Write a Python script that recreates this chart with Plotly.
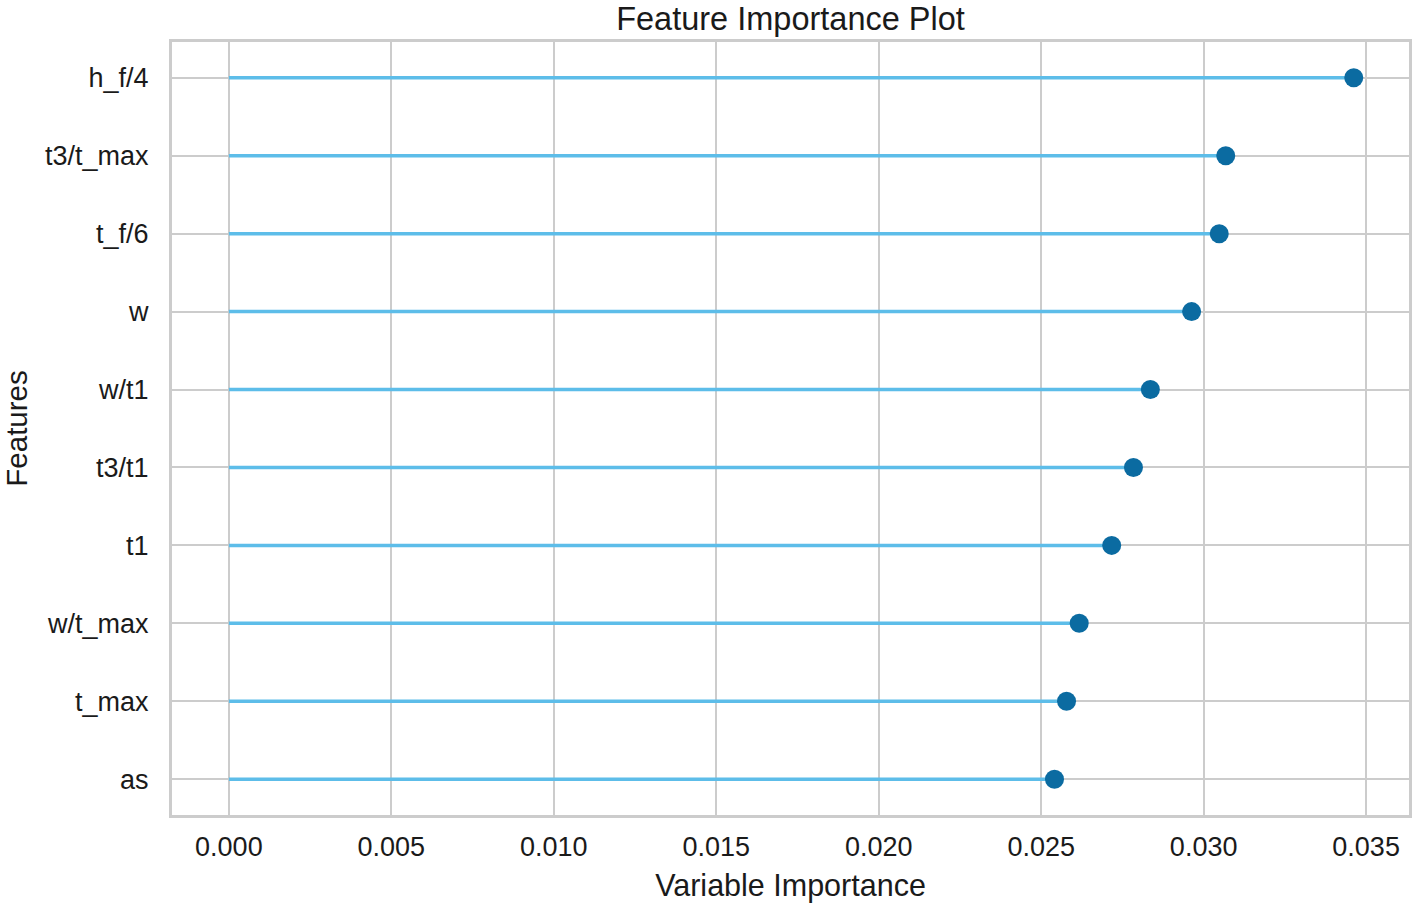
import plotly.graph_objects as go

# feature names, bottom to top
features = ['as', 't_max', 'w/t_max', 't1', 't3/t1', 'w/t1', 'w', 't_f/6', 't3/t_max', 'h_f/4']
importance = [0.02541, 0.02578, 0.02617, 0.02717, 0.02784, 0.02836, 0.02963, 0.03048, 0.03068, 0.03462]
x_ticks = [0.000, 0.005, 0.010, 0.015, 0.020, 0.025, 0.030, 0.035]

# build stems from zero to each value
stem_x = []
stem_y = []
for f, v in zip(features, importance):
    stem_x += [0, v, None]
    stem_y += [f, f, None]

stems = go.Scatter(x=stem_x, y=stem_y, mode='lines',
                   line=dict(color='#5DBDE9', width=3.5), hoverinfo='skip', showlegend=False)
dots = go.Scatter(x=importance, y=features, mode='markers',
                  marker=dict(color='#0B6BA1', size=19), showlegend=False)

fig = go.Figure(data=[stems, dots])

font_name = 'Liberation Sans, Arial, sans-serif'
tick_font = dict(family=font_name, size=27, color='#1a1a1a')

fig.update_layout(
    width=1416, height=907,
    margin=dict(l=168, r=4, t=42, b=92),
    paper_bgcolor='white', plot_bgcolor='white',
    font=tick_font,
    title=dict(text='Feature Importance Plot', x=0.5, xref='paper', xanchor='center',
               y=0.9796, yref='container', yanchor='middle',
               font=dict(family=font_name, size=32.5, color='#1a1a1a')),
    xaxis=dict(range=[-0.00175, 0.03632], tickvals=x_ticks, tickformat='.3f',
               showgrid=True, gridcolor='#cccccc', gridwidth=2,
               showline=True, linecolor='#cccccc', linewidth=3, mirror=True,
               zeroline=False, ticks='', ticklabelstandoff=6,
               title=dict(text='Variable Importance', standoff=14,
                          font=dict(family=font_name, size=30.5, color='#1a1a1a'))),
    yaxis=dict(type='category', categoryorder='array', categoryarray=features,
               range=[-0.46, 9.46],
               showgrid=True, gridcolor='#cccccc', gridwidth=2,
               showline=True, linecolor='#cccccc', linewidth=3, mirror=True,
               zeroline=False, ticks='', ticklabelstandoff=15,
               title=dict(text='Features', standoff=20,
                          font=dict(family=font_name, size=29.5, color='#1a1a1a'))),
)

# drop the default page margin so the figure sits at the window corner
fig.write_html("out.html", config={'displayModeBar': False},
               post_script="document.body.style.margin='0';document.body.style.overflow='hidden';")
